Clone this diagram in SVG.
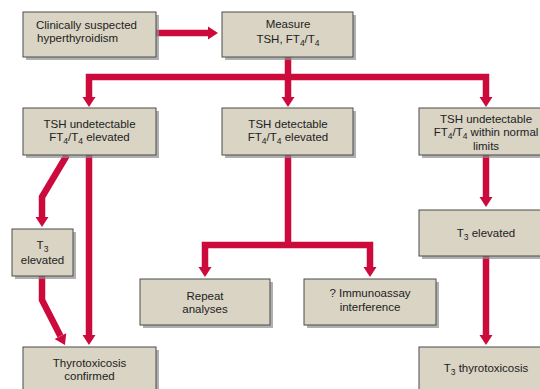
<svg xmlns="http://www.w3.org/2000/svg" width="540" height="389" viewBox="0 0 540 389">
<style>
.box rect.bg{fill:#d9d4c3;stroke:#4a4a4a;stroke-width:1}
.box rect.sh{fill:#8e8e8e;opacity:0.7}
text{font-family:"Liberation Sans",Arial,sans-serif;font-size:11.5px;fill:#222}
.c{text-anchor:middle}
.sub{font-size:8.5px}
.conn path{fill:none;stroke:#cc0a3c;stroke-width:6.5;stroke-linejoin:miter}
</style>
<defs>
<marker id="ah" markerUnits="userSpaceOnUse" markerWidth="12" markerHeight="14" refX="0" refY="6.5" orient="auto-start-reverse" overflow="visible">
<path d="M0,0 L10,6.5 L0,13 z" fill="#cc0a3c"/>
</marker>
</defs>
<rect width="540" height="389" fill="#ffffff"/>

<g class="conn" id="connectors">
<path d="M156,33 H208" marker-end="url(#ah)"/>
<path d="M288,57 V97" marker-end="url(#ah)"/>
<path d="M89,97 V77 H486 V97" marker-start="url(#ah)" marker-end="url(#ah)"/>
<path d="M67,155 L42,197 V217" marker-end="url(#ah)"/>
<path d="M89,155 V335" marker-end="url(#ah)"/>
<path d="M42,276 V300 L60.4,336.1" marker-end="url(#ah)"/>
<path d="M288,155 V245"/>
<path d="M205,267 V245 H370 V267" marker-start="url(#ah)" marker-end="url(#ah)"/>
<path d="M486,155 V197" marker-end="url(#ah)"/>
<path d="M486,256 V335" marker-end="url(#ah)"/>
</g>

<g class="box" id="n-suspected">
<rect class="sh" x="26" y="15" width="133" height="45"/>
<rect class="bg" x="23" y="12" width="133" height="45"/>
<text x="36" y="29">Clinically suspected</text>
<text x="37" y="42">hyperthyroidism</text>
</g>

<g class="box" id="n-measure">
<rect class="sh" x="225" y="15" width="131" height="45"/>
<rect class="bg" x="222" y="12" width="131" height="45"/>
<text class="c" x="288" y="28">Measure</text>
<text class="c" x="288" y="43">TSH, FT<tspan class="sub" dy="3">4</tspan><tspan dy="-3">/T</tspan><tspan class="sub" dy="3">4</tspan></text>
</g>

<g class="box" id="n-tsh-undet-elev">
<rect class="sh" x="26" y="111" width="133" height="47"/>
<rect class="bg" x="23" y="108" width="133" height="47"/>
<text class="c" x="89.5" y="128">TSH undetectable</text>
<text class="c" x="89.5" y="141">FT<tspan class="sub" dy="3">4</tspan><tspan dy="-3">/T</tspan><tspan class="sub" dy="3">4</tspan><tspan dy="-3"> elevated</tspan></text>
</g>

<g class="box" id="n-tsh-det">
<rect class="sh" x="225" y="111" width="131" height="47"/>
<rect class="bg" x="222" y="108" width="131" height="47"/>
<text class="c" x="288" y="128">TSH detectable</text>
<text class="c" x="288" y="141">FT<tspan class="sub" dy="3">4</tspan><tspan dy="-3">/T</tspan><tspan class="sub" dy="3">4</tspan><tspan dy="-3"> elevated</tspan></text>
</g>

<g class="box" id="n-tsh-undet-normal">
<rect class="sh" x="422" y="111" width="133" height="47"/>
<rect class="bg" x="419" y="108" width="133" height="47"/>
<text class="c" x="486" y="123">TSH undetectable</text>
<text class="c" x="486" y="136">FT<tspan class="sub" dy="3">4</tspan><tspan dy="-3">/T</tspan><tspan class="sub" dy="3">4</tspan><tspan dy="-3"> within normal</tspan></text>
<text class="c" x="486" y="150">limits</text>
</g>

<g class="box" id="n-t3-elev-left">
<rect class="sh" x="15" y="232" width="61" height="47"/>
<rect class="bg" x="12" y="229" width="61" height="47"/>
<text class="c" x="42.5" y="249">T<tspan class="sub" dy="3">3</tspan></text>
<text class="c" x="42.5" y="264">elevated</text>
</g>

<g class="box" id="n-t3-elev-right">
<rect class="sh" x="422" y="213" width="133" height="46"/>
<rect class="bg" x="419" y="210" width="133" height="46"/>
<text class="c" x="486" y="237">T<tspan class="sub" dy="3">3</tspan><tspan dy="-3"> elevated</tspan></text>
</g>

<g class="box" id="n-repeat">
<rect class="sh" x="143" y="282" width="130" height="46"/>
<rect class="bg" x="140" y="279" width="130" height="46"/>
<text class="c" x="205" y="300">Repeat</text>
<text class="c" x="205" y="313">analyses</text>
</g>

<g class="box" id="n-immuno">
<rect class="sh" x="307" y="282" width="132" height="46"/>
<rect class="bg" x="304" y="279" width="132" height="46"/>
<text class="c" x="370" y="297">? Immunoassay</text>
<text class="c" x="370" y="311">interference</text>
</g>

<g class="box" id="n-confirmed">
<rect class="sh" x="26" y="350" width="133" height="50"/>
<rect class="bg" x="23" y="347" width="133" height="50"/>
<text class="c" x="89.5" y="367">Thyrotoxicosis</text>
<text class="c" x="89.5" y="380">confirmed</text>
</g>

<g class="box" id="n-t3-thyro">
<rect class="sh" x="422" y="350" width="133" height="50"/>
<rect class="bg" x="419" y="347" width="133" height="50"/>
<text class="c" x="486" y="372">T<tspan class="sub" dy="3">3</tspan><tspan dy="-3"> thyrotoxicosis</tspan></text>
</g>
</svg>
